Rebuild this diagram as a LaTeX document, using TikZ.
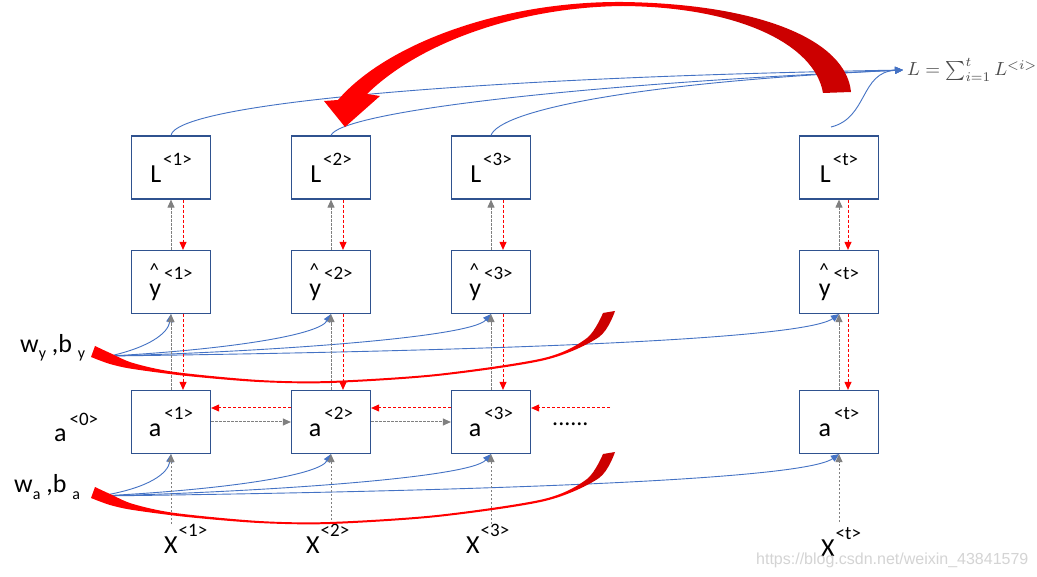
\documentclass[tikz,border=0pt]{standalone}
\usepackage{fontspec}
\usepackage{graphicx}
\setmainfont{Carlito}
\newfontfamily\wmfont{Liberation Sans}
\usetikzlibrary{arrows.meta}
\definecolor{boxblue}{RGB}{47,82,143}
\definecolor{lineblue}{RGB}{68,114,196}
\definecolor{dkred}{RGB}{204,0,0}
\definecolor{agray}{RGB}{128,128,128}
\pgfdeclarehorizontalshading{redarc}{100bp}{color(0bp)=(red); color(57bp)=(red); color(63bp)=(dkred); color(100bp)=(dkred)}
\pgfdeclarehorizontalshading{redtail}{100bp}{color(0bp)=(red); color(70bp)=(red); color(73bp)=(dkred); color(100bp)=(dkred)}
\newcommand{\Sup}[1]{\raisebox{17pt}{\fontsize{19}{19}\selectfont #1}}
\newcommand{\Sub}[1]{\raisebox{-6pt}{\fontsize{16}{16}\selectfont #1}}
\newcommand{\HatLab}[1]{y\hspace{3pt}\Sup{\llap{\raisebox{3pt}{\textasciicircum}\hspace{5pt}}<#1>}}
\tikzset{
  box/.style={draw=boxblue, line width=1.2pt, fill=white, minimum width=79pt, minimum height=63pt, inner sep=0pt, font=\fontsize{26}{26}\selectfont},
  gdash/.style={draw=agray, line width=1pt, dash pattern=on 2.5pt off 1.5pt, -{Triangle[length=8pt,width=7pt]}},
  rdash/.style={draw=red, line width=1pt, dash pattern=on 3pt off 2pt, -{Triangle[length=8pt,width=7pt]}},
  bline/.style={draw=lineblue, line width=0.9pt, -{Triangle[length=8pt,width=7pt]}},
  lbl/.style={anchor=base west, inner sep=0pt, font=\fontsize{26}{26}\selectfont},
}
\begin{document}
\begin{tikzpicture}[x=1pt, y=-1pt]
\fill[white] (0,0) rectangle (1037,577);
\useasboundingbox (0,0) rectangle (1037,577);

% boxes
\node[box] (L1) at (171,167.5) {L\hspace{2pt}\Sup{<1>}};
\node[box] (L2) at (331,167.5) {L\hspace{2pt}\Sup{<2>}};
\node[box] (L3) at (491,167.5) {L\hspace{2pt}\Sup{<3>}};
\node[box] (Lt) at (839,167.5) {L\hspace{2pt}\Sup{<t>}};
\node[box] (Y1) at (171,282) {\HatLab{1}};
\node[box] (Y2) at (331,282) {\HatLab{2}};
\node[box] (Y3) at (491,282) {\HatLab{3}};
\node[box] (Yt) at (839,282) {\HatLab{t}};
\node[box] (A1) at (171,422) {a\hspace{3pt}\Sup{<1>}};
\node[box] (A2) at (331,422) {a\hspace{3pt}\Sup{<2>}};
\node[box] (A3) at (491,422) {a\hspace{3pt}\Sup{<3>}};
\node[box] (At) at (839,422) {a\hspace{3pt}\Sup{<t>}};

% labels
\node[lbl] (wy) at (20,353) {w\Sub{y} ,b \Sub{y}};
\node[lbl] (wa) at (14,493) {w\Sub{a} ,b \Sub{a}};
\node[lbl] (a0) at (54,442) {a\hspace{3pt}\raisebox{16pt}{\fontsize{19}{19}\selectfont <0>}};
\node[lbl] (X1) at (164,553) {X\hspace{1pt}\Sup{<1>}};
\node[lbl] (X2) at (306,553) {X\hspace{1pt}\Sup{<2>}};
\node[lbl] (X3) at (466,553) {X\hspace{1pt}\Sup{<3>}};
\node[lbl] (Xt) at (821,556) {X\hspace{1pt}\Sup{<t>}};
\node[lbl, font=\fontsize{24}{24}\selectfont] (dots) at (552,425) {......};
\node[anchor=base west, inner sep=0pt, text=black!70] (F) at (907,76) {\scalebox{1.9}{$L = \sum_{i=1}^{t} L^{<i>}$}};
\node[anchor=base west, inner sep=0pt, text=black!17, font=\wmfont\fontsize{16}{16}\selectfont] (wm) at (756,564) {https://blog.csdn.net/weixin\_43841579};

% coordinates
\coordinate (ft) at (903,70);
\coordinate (lts) at (831,127);
\coordinate (wyo) at (110,356);
\coordinate (wao) at (100,496);
\coordinate (xs1) at (171,524);
\coordinate (xs2) at (331,524);
\coordinate (xs3) at (491,524);
\coordinate (xst) at (839,522);
\coordinate (rd) at (610,408);

% top blue lines to the sum
\draw[bline] (L1.north) .. controls (176,105) and (450,78) .. (ft);
\draw[bline] (L2.north) .. controls (340,113) and (560,85) .. (ft);
\draw[bline] (L3.north) .. controls (500,110) and (640,82) .. (ft);
\draw[bline] (lts) .. controls (868,118) and (860,72) .. (ft);

% blue lines from w_y, b_y
\draw[bline] (wyo) .. controls (150,347) and (168,333) .. (Y1.south);
\draw[bline] (wyo) .. controls (220,350) and (318,336) .. (Y2.south);
\draw[bline] (wyo) .. controls (260,352) and (470,338) .. (Y3.south);
\draw[bline] (wyo) .. controls (420,352) and (800,342) .. (Yt.south);
% blue lines from w_a, b_a
\draw[bline] (wao) .. controls (150,488) and (168,473) .. (A1.south);
\draw[bline] (wao) .. controls (220,490) and (318,476) .. (A2.south);
\draw[bline] (wao) .. controls (260,492) and (470,478) .. (A3.south);
\draw[bline] (wao) .. controls (420,492) and (800,482) .. (At.south);

% vertical dashed arrows
\foreach \c/\s in {1/12,2/12,3/12,t/9}{
  \draw[gdash] (Y\c.north) -- (L\c.south);
  \draw[rdash] ([xshift=\s pt]L\c.south) -- ([xshift=\s pt]Y\c.north);
  \draw[gdash] (A\c.north) -- (Y\c.south);
  \draw[rdash] ([xshift=\s pt]Y\c.south) -- ([xshift=\s pt]A\c.north);
  \draw[gdash] (xs\c) -- (A\c.south);
}
% horizontal dashed arrows
\draw[gdash] (A1.east) -- (A2.west);
\draw[gdash] (A2.east) -- (A3.west);
\draw[rdash] ([yshift=14pt]A2.west) -- ([yshift=14pt]A1.east);
\draw[rdash] ([yshift=14pt]A3.west) -- ([yshift=14pt]A2.east);
\draw[rdash] (rd) -- ([yshift=14pt]A3.east);

% big red curved arrow
\shade[shading=redarc] (851,92) .. controls (846,40) and (760,4) .. (623,2)
  .. controls (500,1) and (385,45) .. (338,100) -- (324,101) -- (345,127) -- (380,96) -- (367,94)
  .. controls (420,42) and (520,7) .. (623,6) .. controls (740,7) and (815,45) .. (823,93) -- cycle;

% lower red curved arrows
\foreach \dy in {0,141}{
\begin{scope}[shift={(0,\dy)}]
\shade[shading=redtail] (91,357) -- (95,346) -- plot[smooth,tension=0.5] coordinates {(95,346) (110,353) (133,363) (175,372) (259,380) (330,381) (437,374) (544,358) (587,338) (603,313)}
  -- plot[smooth,tension=0.5] coordinates {(615,311) (599,337) (545,360) (437,376) (330,383) (259,382) (187,376) (133,369) (110,364) (91,357)} -- cycle;
\end{scope}
}
\end{tikzpicture}
\end{document}
